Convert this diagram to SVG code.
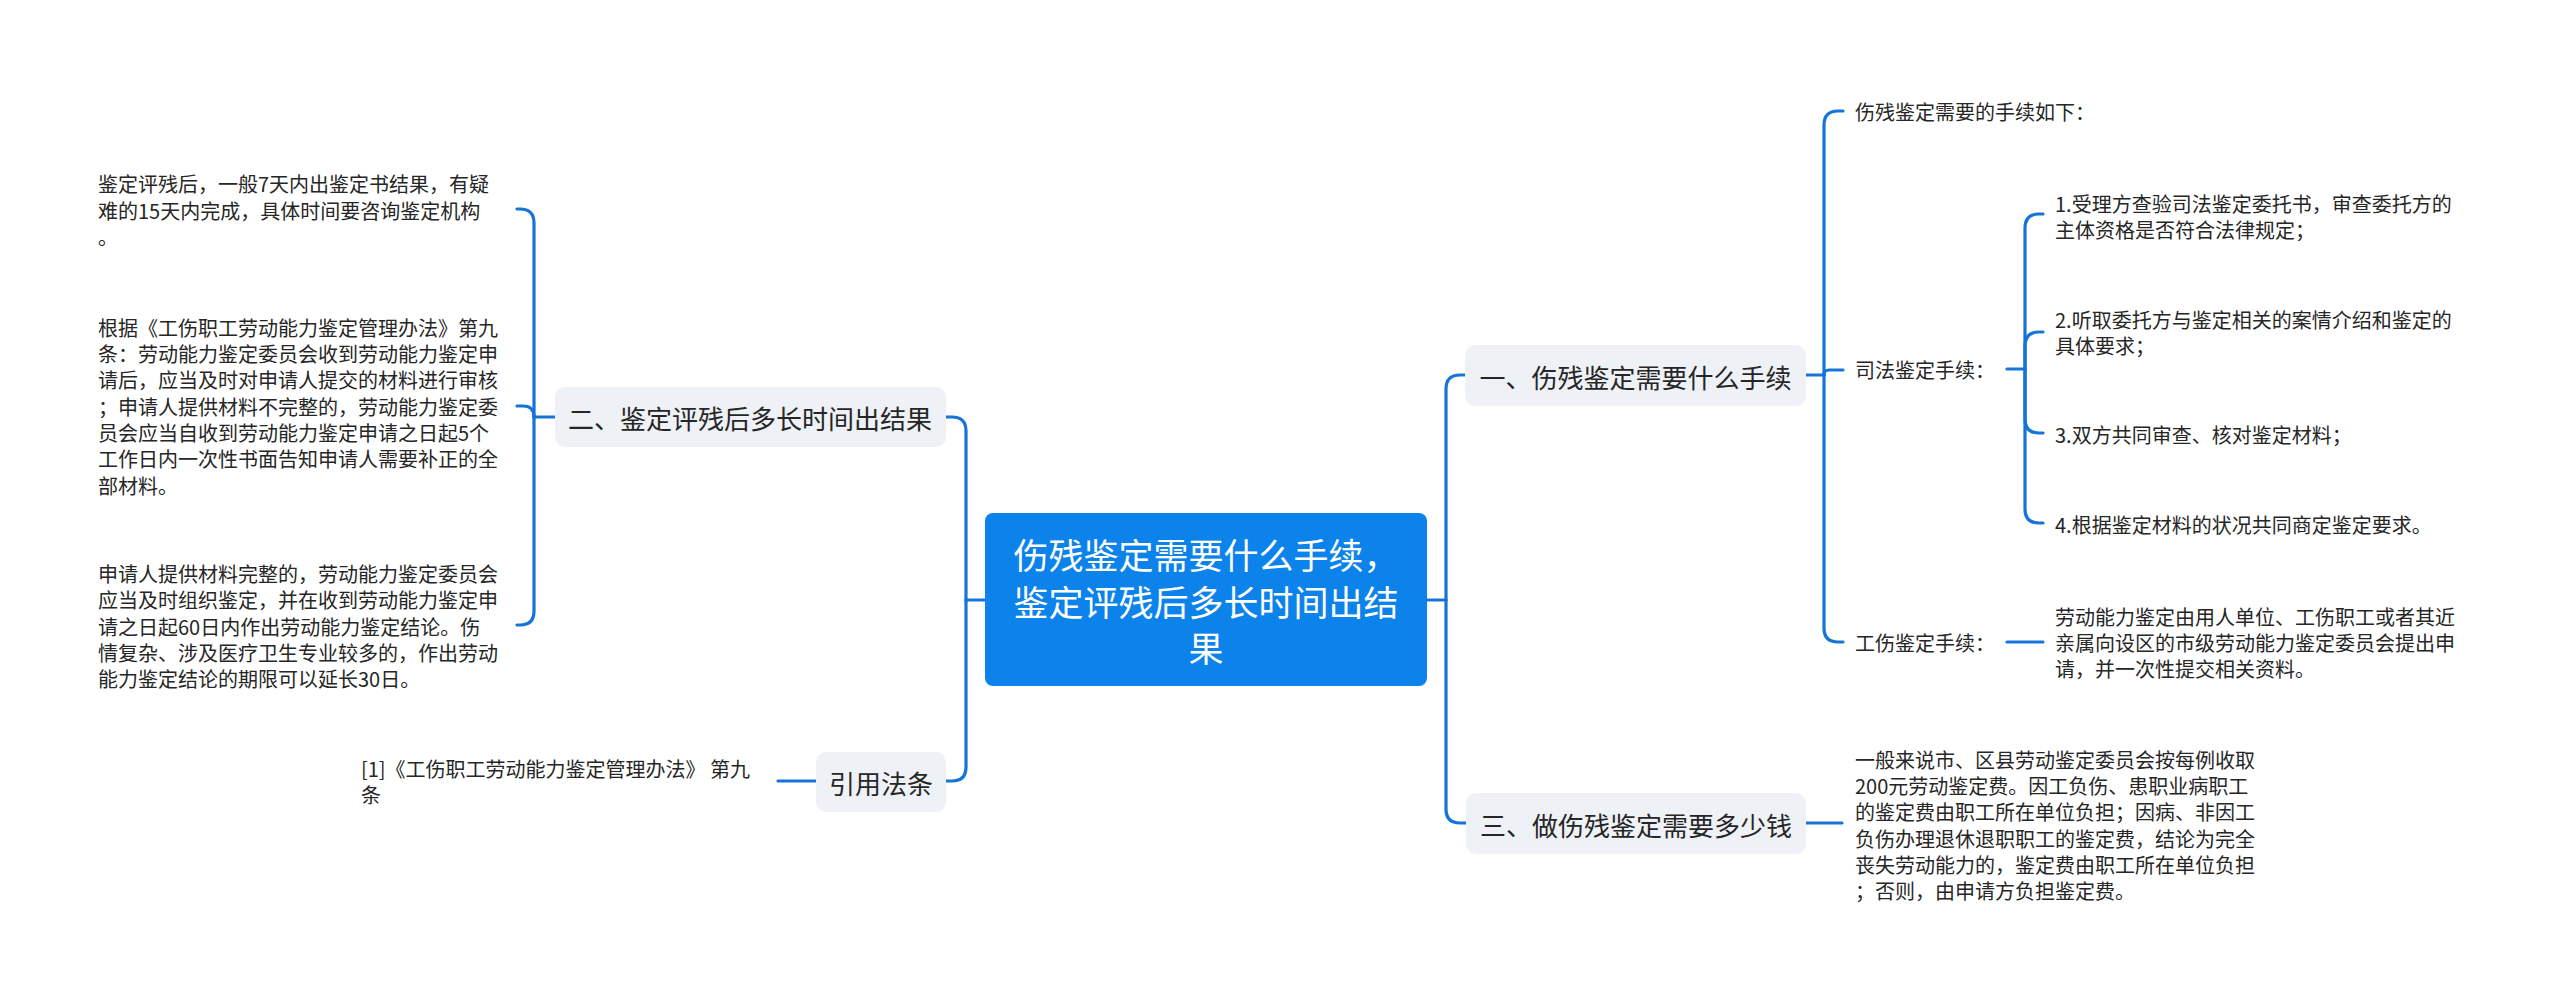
<svg xmlns="http://www.w3.org/2000/svg" width="2560" height="999" viewBox="0 0 2560 999">
<style>
text{font-family:"Microsoft YaHei","Noto Sans CJK SC","Noto Sans",sans-serif;dominant-baseline:central}
.leaf{font-size:20px;fill:#262626}
.l1{font-size:26px;fill:#262626;text-anchor:middle}
.root{font-size:35px;fill:#ffffff;text-anchor:middle}
.box{fill:#eef1f5}
.conn path{fill:none;stroke:#1674d8;stroke-width:3.2;stroke-linecap:round}
</style>
<rect width="2560" height="999" fill="#ffffff"/>
<g id="connectors" class="conn">
<!-- root left -->
<path d="M985,600 H966"/>
<path d="M966,600 V431 Q966,417 952,417 H946"/>
<path d="M966,600 V767 Q966,781 952,781 H946"/>
<!-- root right -->
<path d="M1427,600 H1446"/>
<path d="M1446,600 V389 Q1446,375 1460,375 H1465"/>
<path d="M1446,600 V809 Q1446,823 1460,823 H1466"/>
<!-- 二 children -->
<path d="M555,417 H534"/>
<path d="M534,417 V223 Q534,209 520,209 H517"/>
<path d="M534,417 Q534,406 523,406 H517"/>
<path d="M534,417 V611 Q534,625 520,625 H517"/>
<!-- 引用 -->
<path d="M816,781 H778"/>
<!-- 一 children -->
<path d="M1806,375 H1824"/>
<path d="M1824,375 V125 Q1824,111 1838,111 H1843"/>
<path d="M1824,375 Q1824,370 1829,370 H1843"/>
<path d="M1824,375 V628 Q1824,642 1838,642 H1843"/>
<!-- 司法 children -->
<path d="M2007,369 H2025"/>
<path d="M2025,369 V228 Q2025,214 2039,214 H2043"/>
<path d="M2025,369 V346 Q2025,332 2039,332 H2043"/>
<path d="M2025,369 V419 Q2025,433 2039,433 H2043"/>
<path d="M2025,369 V509 Q2025,523 2039,523 H2043"/>
<!-- 工伤 -->
<path d="M2007,642 H2043"/>
<!-- 三 -->
<path d="M1806,823 H1842"/>
</g>

<g id="root">
<rect x="985" y="513" width="442" height="173" rx="8" fill="#0c83ea"/>
<text class="root" x="1206" y="553">伤残鉴定需要什么手续，</text>
<text class="root" x="1206" y="600">鉴定评残后多长时间出结</text>
<text class="root" x="1206" y="646">果</text>
</g>

<g id="n1">
<rect class="box" x="1465" y="345" width="341" height="61" rx="10"/>
<text class="l1" x="1635.5" y="376">一、伤残鉴定需要什么手续</text>
</g>
<g id="n2">
<rect class="box" x="555" y="387" width="391" height="60" rx="10"/>
<text class="l1" x="750" y="417">二、鉴定评残后多长时间出结果</text>
</g>
<g id="n3">
<rect class="box" x="1466" y="793" width="340" height="61" rx="10"/>
<text class="l1" x="1636" y="824">三、做伤残鉴定需要多少钱</text>
</g>
<g id="n4">
<rect class="box" x="816" y="752" width="130" height="60" rx="10"/>
<text class="l1" x="881" y="782">引用法条</text>
</g>

<g id="n1-a">
<text class="leaf" x="1855" y="111">伤残鉴定需要的手续如下：</text>
</g>
<g id="n1-b">
<text class="leaf" x="1855" y="369">司法鉴定手续：</text>
</g>
<g id="n1-b1">
<text class="leaf" x="2055" y="203">1.受理方查验司法鉴定委托书，审查委托方的</text>
<text class="leaf" x="2055" y="229">主体资格是否符合法律规定；</text>
</g>
<g id="n1-b2">
<text class="leaf" x="2055" y="319">2.听取委托方与鉴定相关的案情介绍和鉴定的</text>
<text class="leaf" x="2055" y="345">具体要求；</text>
</g>
<g id="n1-b3">
<text class="leaf" x="2055" y="434">3.双方共同审查、核对鉴定材料；</text>
</g>
<g id="n1-b4">
<text class="leaf" x="2055" y="524">4.根据鉴定材料的状况共同商定鉴定要求。</text>
</g>
<g id="n1-c">
<text class="leaf" x="1855" y="642">工伤鉴定手续：</text>
</g>
<g id="n1-c1">
<text class="leaf" x="2055" y="616">劳动能力鉴定由用人单位、工伤职工或者其近</text>
<text class="leaf" x="2055" y="642">亲属向设区的市级劳动能力鉴定委员会提出申</text>
<text class="leaf" x="2055" y="668">请，并一次性提交相关资料。</text>
</g>

<g id="n3-a">
<text class="leaf" x="1855" y="759">一般来说市、区县劳动鉴定委员会按每例收取</text>
<text class="leaf" x="1855" y="785">200元劳动鉴定费。因工负伤、患职业病职工</text>
<text class="leaf" x="1855" y="811">的鉴定费由职工所在单位负担；因病、非因工</text>
<text class="leaf" x="1855" y="838">负伤办理退休退职职工的鉴定费，结论为完全</text>
<text class="leaf" x="1855" y="864">丧失劳动能力的，鉴定费由职工所在单位负担</text>
<text class="leaf" x="1855" y="890">；否则，由申请方负担鉴定费。</text>
</g>

<g id="n2-a">
<text class="leaf" x="98" y="183">鉴定评残后，一般7天内出鉴定书结果，有疑</text>
<text class="leaf" x="98" y="210">难的15天内完成，具体时间要咨询鉴定机构</text>
<text class="leaf" x="98" y="236">。</text>
</g>
<g id="n2-b">
<text class="leaf" x="98" y="327">根据《工伤职工劳动能力鉴定管理办法》第九</text>
<text class="leaf" x="98" y="353">条：劳动能力鉴定委员会收到劳动能力鉴定申</text>
<text class="leaf" x="98" y="379">请后，应当及时对申请人提交的材料进行审核</text>
<text class="leaf" x="98" y="406">；申请人提供材料不完整的，劳动能力鉴定委</text>
<text class="leaf" x="98" y="432">员会应当自收到劳动能力鉴定申请之日起5个</text>
<text class="leaf" x="98" y="458">工作日内一次性书面告知申请人需要补正的全</text>
<text class="leaf" x="98" y="485">部材料。</text>
</g>
<g id="n2-c">
<text class="leaf" x="98" y="573">申请人提供材料完整的，劳动能力鉴定委员会</text>
<text class="leaf" x="98" y="599">应当及时组织鉴定，并在收到劳动能力鉴定申</text>
<text class="leaf" x="98" y="626">请之日起60日内作出劳动能力鉴定结论。伤</text>
<text class="leaf" x="98" y="652">情复杂、涉及医疗卫生专业较多的，作出劳动</text>
<text class="leaf" x="98" y="678">能力鉴定结论的期限可以延长30日。</text>
</g>
<g id="n4-a">
<text class="leaf" x="361" y="768">[1]《工伤职工劳动能力鉴定管理办法》 第九</text>
<text class="leaf" x="361" y="794">条</text>
</g>
</svg>
